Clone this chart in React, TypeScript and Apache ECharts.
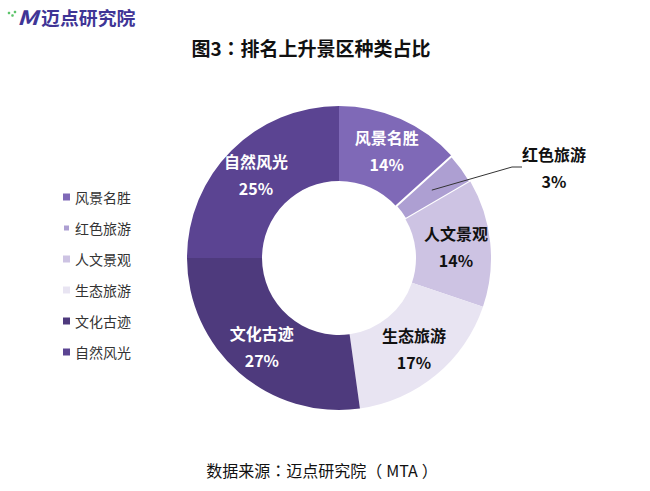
import React, { useEffect, useRef } from "react";
import * as echarts from "echarts";

const categories = ["风景名胜", "红色旅游", "人文景观", "生态旅游", "文化古迹", "自然风光"];
const shares = [13.3, 3.3, 13.6, 17.6, 27.2, 25.0];
const labelPercents = [14, 3, 14, 17, 27, 25];
const colors = ["#7f69b7", "#ad9fd2", "#cdc3e3", "#e8e4f2", "#4e3a7d", "#5b4492"];
const labelColors = ["#ffffff", "#111111", "#111111", "#111111", "#ffffff", "#ffffff"];
const outsideIndex = 1;

const FONT = '"Noto Sans CJK SC", "Microsoft YaHei", sans-serif';
const FONT_TC = '"Noto Sans CJK TC", "Noto Sans CJK SC", sans-serif';
const CENTER: [number, number] = [339, 258];
const R_IN = 77;
const R_OUT = 152;
const R_ANCHOR = 115;

export default function App() {
  const ref = useRef<HTMLDivElement>(null);
  useEffect(() => {
    if (!ref.current) return;
    const chart = echarts.init(ref.current, null, { renderer: "svg" });
    const labelFormatter = (p: any) => `${p.name}\n${labelPercents[p.dataIndex]}%`;
    const option: any = {
      animation: false,
      backgroundColor: "#ffffff",
      textStyle: { fontFamily: FONT },
      legend: {
        orient: "vertical",
        left: 62,
        top: 190,
        padding: 0,
        itemWidth: 7,
        itemHeight: 7,
        itemGap: 17,
        icon: "rect",
        data: categories,
        textStyle: { fontSize: 14, lineHeight: 14, color: "#333333", fontFamily: FONT },
      },
      graphic: [
        { type: "circle", shape: { cx: 9, cy: 13, r: 1.3 }, style: { fill: "#5cc46a" } },
        { type: "circle", shape: { cx: 12.5, cy: 15.5, r: 1.3 }, style: { fill: "#5cc46a" } },
        { type: "circle", shape: { cx: 15, cy: 12, r: 1.3 }, style: { fill: "#5cc46a" } },
        {
          type: "text",
          x: 17,
          y: 17,
          scaleX: 1.25,
          style: {
            text: "M",
            fontSize: 20,
            fontWeight: "bold",
            fontStyle: "italic",
            fill: "#3f3596",
            fontFamily: FONT,
            verticalAlign: "middle",
          },
        },
        {
          type: "text",
          x: 41,
          y: 17,
          scaleX: 1.05,
          style: {
            text: "迈点研究院",
            fontSize: 18,
            fontWeight: "bold",
            fill: "#3f3596",
            fontFamily: FONT,
            verticalAlign: "middle",
          },
        },
        {
          type: "text",
          x: 311,
          y: 47,
          style: {
            text: "图3{c|：}排名上升景区种类占比",
            fontSize: 19,
            fontWeight: "bold",
            fill: "#111111",
            fontFamily: FONT,
            align: "center",
            verticalAlign: "middle",
            rich: { c: { fontSize: 19, fontWeight: "bold", fill: "#111111", fontFamily: FONT_TC } },
          },
        },
        {
          type: "text",
          x: 322,
          y: 470,
          style: {
            text: "数据来源{c|：}迈点研究院{p|（}MTA{q|）}",
            fontSize: 16,
            fill: "#111111",
            fontFamily: FONT,
            align: "center",
            verticalAlign: "middle",
            rich: {
              c: { fontSize: 16, fill: "#111111", fontFamily: FONT_TC },
              p: { fontSize: 16, fill: "#111111", fontFamily: FONT, padding: [0, 4, 0, 0] },
              q: { fontSize: 16, fill: "#111111", fontFamily: FONT, padding: [0, 0, 0, 4] },
            },
          },
        },
      ],
      series: [
        {
          type: "pie",
          name: "main",
          z: 2,
          center: CENTER,
          radius: [R_IN, R_OUT],
          startAngle: 90,
          clockwise: true,
          avoidLabelOverlap: false,
          label: {
            show: true,
            position: "inside",
            fontSize: 16,
            fontWeight: "bold",
            lineHeight: 27,
            fontFamily: FONT,
            formatter: labelFormatter,
          },
          labelLine: { show: false },
          emphasis: { disabled: true },
          data: categories.map((name, i) => {
            const item: any = {
              name,
              value: shares[i],
              itemStyle: { color: colors[i] },
              label: { color: labelColors[i] },
            };
            if (i === outsideIndex) {
              item.itemStyle = { color: colors[i], borderColor: "#ffffff", borderWidth: 2 };
              item.label = { show: false };
            }
            return item;
          }),
        },
        {
          type: "pie",
          name: "callout",
          z: 6,
          center: CENTER,
          radius: [R_IN, R_ANCHOR],
          startAngle: 90,
          clockwise: true,
          silent: true,
          avoidLabelOverlap: false,
          itemStyle: { color: "rgba(0,0,0,0)" },
          emphasis: { disabled: true },
          label: { show: false },
          labelLine: { show: false },
          labelLayout: (params: any) => {
            if (params.dataIndex !== outsideIndex) return {};
            return { x: 554, y: 167, align: "center", verticalAlign: "middle" };
          },
          data: categories.map((name, i) => {
            const item: any = { name, value: shares[i], itemStyle: { color: "rgba(0,0,0,0)" } };
            if (i === outsideIndex) {
              item.label = {
                show: true,
                position: "outside",
                color: "#111111",
                fontSize: 16,
                fontWeight: "bold",
                lineHeight: 27,
                fontFamily: FONT,
                formatter: labelFormatter,
              };
              item.labelLine = {
                show: true,
                length: 10,
                length2: 10,
                lineStyle: { color: "#333333", width: 1 },
              };
            }
            return item;
          }),
        },
      ],
    };
    chart.setOption(option);
    return () => chart.dispose();
  }, []);
  return (
    <div
      ref={ref}
      style={{ position: "fixed", left: 0, top: 0, width: 650, height: 491, background: "#fff" }}
    />
  );
}
